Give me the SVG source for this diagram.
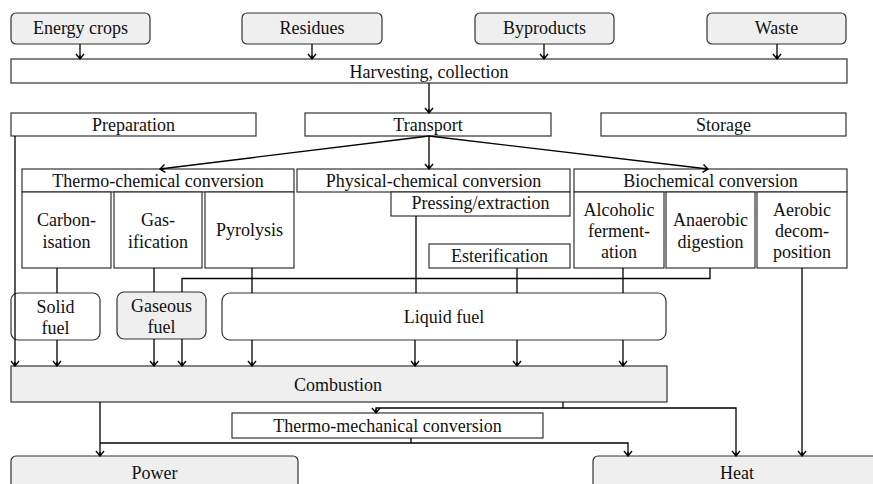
<svg xmlns="http://www.w3.org/2000/svg" width="873" height="484" viewBox="0 0 873 484">
  <defs>
    <!-- open chevron arrowhead shared by all connectors -->
    <marker id="head" markerUnits="userSpaceOnUse" markerWidth="12" markerHeight="12" refX="6" refY="6" orient="auto" viewBox="0 0 12 12">
      <path d="M1,2 L6,6 L1,10 M2,6 L6,6" fill="none" stroke="#000" stroke-width="1.4"/>
    </marker>
  </defs>

  <rect width="873" height="484" fill="#ffffff"/>

  <g id="nodes" font-family="Liberation Serif" font-size="18" text-anchor="middle" stroke-width="1.2">
    <!-- biomass sources -->
    <g id="energy-crops"><rect fill="#efefef" stroke="#333" x="11" y="13" width="139" height="31" rx="5"/><text fill="#111" x="80.5" y="34">Energy crops</text></g>
    <g id="residues"><rect fill="#efefef" stroke="#333" x="242" y="13" width="140" height="31" rx="5"/><text fill="#111" x="312" y="34">Residues</text></g>
    <g id="byproducts"><rect fill="#efefef" stroke="#333" x="475" y="13" width="139" height="31" rx="5"/><text fill="#111" x="544.5" y="34">Byproducts</text></g>
    <g id="waste"><rect fill="#efefef" stroke="#333" x="707" y="13" width="139" height="31" rx="5"/><text fill="#111" x="776.5" y="34">Waste</text></g>

    <g id="harvesting"><rect fill="#fff" stroke="#333" x="11" y="59" width="836" height="24"/><text fill="#111" x="429" y="77.5">Harvesting, collection</text></g>

    <g id="preparation"><rect fill="#fff" stroke="#333" x="11" y="113" width="245" height="23"/><text fill="#111" x="133.5" y="130.5">Preparation</text></g>
    <g id="transport"><rect fill="#fff" stroke="#333" x="305" y="113" width="246" height="23"/><text fill="#111" x="428" y="130.5">Transport</text></g>
    <g id="storage"><rect fill="#fff" stroke="#333" x="601" y="113" width="245" height="23"/><text fill="#111" x="723.5" y="130.5">Storage</text></g>

    <!-- conversion groups -->
    <g id="thermo-chemical"><rect fill="#fff" stroke="#333" x="22" y="169" width="272" height="23"/><text fill="#111" x="158" y="186.5">Thermo-chemical conversion</text></g>
    <g id="carbonisation"><rect fill="#fff" stroke="#333" x="22" y="192" width="89" height="76"/><text fill="#111" x="66.5" y="226">Carbon-</text><text fill="#111" x="66.5" y="248">isation</text></g>
    <g id="gasification"><rect fill="#fff" stroke="#333" x="114" y="192" width="88" height="76"/><text fill="#111" x="158" y="226">Gas-</text><text fill="#111" x="158" y="248">ification</text></g>
    <g id="pyrolysis"><rect fill="#fff" stroke="#333" x="205" y="192" width="89" height="76"/><text fill="#111" x="249.5" y="236">Pyrolysis</text></g>

    <g id="physical-chemical"><rect fill="#fff" stroke="#333" x="297" y="169" width="273" height="23"/><text fill="#111" x="433.5" y="186.5">Physical-chemical conversion</text></g>
    <g id="pressing"><rect fill="#fff" stroke="#333" x="391" y="192" width="179" height="24"/><text fill="#111" x="480.5" y="209">Pressing/extraction</text></g>
    <g id="esterification"><rect fill="#fff" stroke="#333" x="429" y="244" width="141" height="24"/><text fill="#111" x="499.5" y="261.5">Esterification</text></g>

    <g id="biochemical"><rect fill="#fff" stroke="#333" x="574" y="169" width="273" height="23"/><text fill="#111" x="710.5" y="186.5">Biochemical conversion</text></g>
    <g id="alcoholic"><rect fill="#fff" stroke="#333" x="574" y="192" width="90" height="76"/><text fill="#111" x="619" y="216">Alcoholic</text><text fill="#111" x="619" y="237">ferment-</text><text fill="#111" x="619" y="258">ation</text></g>
    <g id="anaerobic"><rect fill="#fff" stroke="#333" x="666" y="192" width="89" height="76"/><text fill="#111" x="710.5" y="226">Anaerobic</text><text fill="#111" x="710.5" y="248">digestion</text></g>
    <g id="aerobic"><rect fill="#fff" stroke="#333" x="757" y="192" width="90" height="76"/><text fill="#111" x="802" y="216">Aerobic</text><text fill="#111" x="802" y="237">decom-</text><text fill="#111" x="802" y="258">position</text></g>

    <!-- fuels -->
    <g id="solid-fuel"><rect fill="#fff" stroke="#333" x="11" y="293" width="89" height="47" rx="7"/><text fill="#111" x="55.5" y="313">Solid</text><text fill="#111" x="55.5" y="334">fuel</text></g>
    <g id="gaseous-fuel"><rect fill="#efefef" stroke="#333" x="117" y="292" width="89" height="47" rx="7"/><text fill="#111" x="161.5" y="312">Gaseous</text><text fill="#111" x="161.5" y="333">fuel</text></g>
    <g id="liquid-fuel"><rect fill="#fff" stroke="#333" x="222" y="293" width="444" height="47" rx="8"/><text fill="#111" x="444" y="323">Liquid fuel</text></g>

    <g id="combustion"><rect fill="#efefef" stroke="#333" x="11" y="366" width="656" height="36"/><text fill="#111" x="338" y="391">Combustion</text></g>
    <g id="thermo-mechanical"><rect fill="#fff" stroke="#333" x="232" y="413" width="311" height="25"/><text fill="#111" x="387.5" y="431.5">Thermo-mechanical conversion</text></g>

    <!-- end uses -->
    <g id="power"><rect fill="#efefef" stroke="#333" x="11" y="456" width="287" height="40" rx="5"/><text fill="#111" x="154.5" y="479">Power</text></g>
    <g id="heat"><rect fill="#efefef" stroke="#333" x="593" y="456" width="290" height="40" rx="5"/><text fill="#111" x="737" y="479">Heat</text></g>
  </g>

  <!-- connectors -->
  <g id="connectors" fill="none" stroke="#000" stroke-width="1.3">
    <line marker-end="url(#head)" x1="80" y1="44" x2="80" y2="59"/>
    <line marker-end="url(#head)" x1="312" y1="44" x2="312" y2="59"/>
    <line marker-end="url(#head)" x1="544" y1="44" x2="544" y2="59"/>
    <line marker-end="url(#head)" x1="777" y1="44" x2="777" y2="59"/>
    <line marker-end="url(#head)" x1="429" y1="83" x2="429" y2="113"/>

    <line marker-end="url(#head)" x1="429" y1="136" x2="160" y2="169"/>
    <line marker-end="url(#head)" x1="429" y1="136" x2="429" y2="169"/>
    <line marker-end="url(#head)" x1="429" y1="136" x2="708" y2="169"/>

    <!-- preparation straight to combustion -->
    <line marker-end="url(#head)" x1="15" y1="136" x2="15" y2="366"/>

    <!-- conversion steps to fuels -->
    <line x1="57" y1="268" x2="57" y2="293"/>
    <line x1="154" y1="268" x2="154" y2="292"/>
    <line x1="252" y1="268" x2="252" y2="293"/>
    <line x1="416" y1="216" x2="416" y2="293"/>
    <line x1="517" y1="268" x2="517" y2="293"/>
    <line x1="623" y1="268" x2="623" y2="293"/>
    <polyline points="710,268 710,278.5 182,278.5 182,292"/>
    <line marker-end="url(#head)" x1="802" y1="268" x2="802" y2="456"/>

    <!-- fuels to combustion -->
    <line marker-end="url(#head)" x1="57" y1="340" x2="57" y2="366"/>
    <line marker-end="url(#head)" x1="154" y1="339" x2="154" y2="366"/>
    <line marker-end="url(#head)" x1="182" y1="339" x2="182" y2="366"/>
    <line marker-end="url(#head)" x1="252" y1="340" x2="252" y2="366"/>
    <line marker-end="url(#head)" x1="415" y1="340" x2="415" y2="366"/>
    <line marker-end="url(#head)" x1="517" y1="340" x2="517" y2="366"/>
    <line marker-end="url(#head)" x1="623" y1="340" x2="623" y2="366"/>

    <!-- combustion outputs -->
    <line marker-end="url(#head)" x1="100" y1="402" x2="100" y2="456"/>
    <line x1="563" y1="402" x2="563" y2="408"/>
    <polyline marker-end="url(#head)" points="563,408 376,408 376,413"/>
    <polyline marker-end="url(#head)" points="563,408 736,408 736,456"/>
    <line x1="411" y1="438" x2="411" y2="443"/>
    <line x1="100" y1="443" x2="411" y2="443"/>
    <polyline marker-end="url(#head)" points="411,443 628,443 628,456"/>
  </g>
</svg>
